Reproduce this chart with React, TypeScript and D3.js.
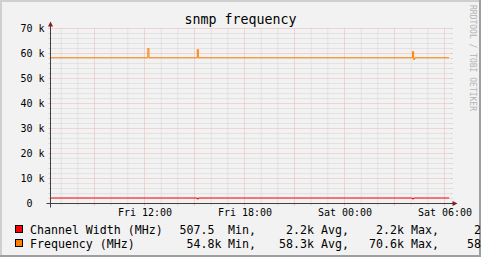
import React from "react";
import * as d3 from "d3";

// ---- data ----
const TIME_START = "2024-01-05T06:21:36Z";
const TIME_END = "2024-01-06T06:21:36Z";

const freqTimes = [
  "2024-01-05T06:21:36Z",
  "2024-01-05T12:12:00Z",
  "2024-01-05T12:16:00Z",
  "2024-01-05T15:10:00Z",
  "2024-01-05T15:14:00Z",
  "2024-01-06T04:05:00Z",
  "2024-01-06T04:09:00Z",
  "2024-01-06T04:13:00Z",
  "2024-01-06T06:17:00Z",
];
const freqValues = [58300, 62000, 58300, 61600, 58300, 60800, 57600, 58300, 58300];

const widthTimes = [
  "2024-01-05T06:21:36Z",
  "2024-01-05T15:10:00Z",
  "2024-01-05T15:14:00Z",
  "2024-01-06T04:05:00Z",
  "2024-01-06T04:09:00Z",
  "2024-01-06T06:17:00Z",
];
const widthValues = [2200, 1800, 2200, 1800, 2200, 2200];

const yTicks = [0, 10000, 20000, 30000, 40000, 50000, 60000, 70000];
const yMinorStep = 2000;

const legendNames = ["Channel Width (MHz)", "Frequency (MHz)"];
const legendColors = ["#ff0000", "#ff8000"];
const legendMin = ["507.5 ", "54.8k"];
const legendAvg = ["2.2k", "58.3k"];
const legendMax = ["2.2k", "70.6k"];
const legendLast = ["2.2k", "58.3k"];
const statWords = ["Min,", "Avg,", "Max,"];

const TITLE = "snmp frequency";
const WATERMARK = "RRDTOOL / TOBI OETIKER";

// ---- layout ----
const W = 481;
const H = 257;
const X0 = 50.5;
const X1 = 450.5;
const Y0 = 203.5;
const Y1 = 28.5;
const MONO = "'DejaVu Sans Mono', monospace";

export default function App() {
  const x = d3
    .scaleUtc()
    .domain([new Date(TIME_START), new Date(TIME_END)])
    .range([X0, X1]);
  const y = d3.scaleLinear().domain([0, 70000]).range([Y0, Y1]);

  const hourTicks = x.ticks(d3.utcHour.every(1)!);
  const majorX = hourTicks.filter((d) => d.getUTCHours() % 3 === 0);
  const minorX = hourTicks.filter((d) => d.getUTCHours() % 3 !== 0);
  const labelX = hourTicks.filter((d) => d.getUTCHours() % 6 === 0);
  const fmt = d3.utcFormat("%a %H:%M");

  const minorY = d3.range(0, 70001, yMinorStep).filter((v) => v % 10000 !== 0);

  const line = d3
    .line<[Date, number]>()
    .x((d) => x(d[0]))
    .y((d) => y(d[1]))
    .curve(d3.curveStepAfter);

  const freqPts: [Date, number][] = freqTimes.map((t, i) => [new Date(t), freqValues[i]]);
  const widthPts: [Date, number][] = widthTimes.map((t, i) => [new Date(t), widthValues[i]]);

  const minorCol = "#d2d2d2";
  const majorCol = "#efb4b4";
  const rows = [233.5, 247.5];

  return (
    <svg
      width={W}
      height={H}
      style={{ position: "fixed", left: 0, top: 0 }}
      xmlns="http://www.w3.org/2000/svg"
    >
      <rect x={0} y={0} width={W} height={H} fill="#f2f2f2" />
      {/* frame shading */}
      <line x1={0} y1={1} x2={W} y2={1} stroke="#cfcfcf" strokeWidth={2} />
      <line x1={1} y1={0} x2={1} y2={H} stroke="#cfcfcf" strokeWidth={2} />
      <line x1={0} y1={H - 1} x2={W} y2={H - 1} stroke="#9e9e9e" strokeWidth={2} />
      <line x1={W - 1} y1={0} x2={W - 1} y2={H} stroke="#9e9e9e" strokeWidth={2} />

      {/* minor grid */}
      {minorY.map((v) => (
        <g key={"my" + v}>
          <line x1={X0} x2={X1} y1={y(v)} y2={y(v)} stroke={minorCol} strokeDasharray="1,1" />
          <line x1={X0 - 2} x2={X0} y1={y(v)} y2={y(v)} stroke={minorCol} />
          <line x1={X1} x2={X1 + 2} y1={y(v)} y2={y(v)} stroke={minorCol} />
        </g>
      ))}
      {minorX.map((d) => (
        <g key={"mx" + d.getTime()}>
          <line x1={x(d)} x2={x(d)} y1={Y1} y2={Y0} stroke={minorCol} strokeDasharray="1,1" />
          <line x1={x(d)} x2={x(d)} y1={Y0} y2={Y0 + 2} stroke={minorCol} />
        </g>
      ))}
      {/* major grid */}
      {yTicks.map((v) => (
        <g key={"My" + v}>
          <line x1={X0} x2={X1} y1={y(v)} y2={y(v)} stroke={majorCol} strokeDasharray="1,1" />
          <line x1={X0 - 2} x2={X0} y1={y(v)} y2={y(v)} stroke={majorCol} />
          <line x1={X1} x2={X1 + 2} y1={y(v)} y2={y(v)} stroke={majorCol} />
        </g>
      ))}
      {majorX.map((d) => (
        <g key={"Mx" + d.getTime()}>
          <line x1={x(d)} x2={x(d)} y1={Y1} y2={Y0} stroke={majorCol} strokeDasharray="1,1" />
          <line x1={x(d)} x2={x(d)} y1={Y0} y2={Y0 + 2} stroke={majorCol} />
        </g>
      ))}

      {/* data lines */}
      <path d={line(widthPts) || ""} fill="none" stroke={legendColors[0]} strokeWidth={1} />
      <path d={line(freqPts) || ""} fill="none" stroke={legendColors[1]} strokeWidth={1} />

      {/* axes */}
      <line x1={X0 - 4} x2={X1 + 3} y1={Y0} y2={Y0} stroke="#404040" />
      <line x1={X0} x2={X0} y1={Y0 + 4} y2={Y1 - 3} stroke="#404040" />
      <polygon
        points={`${X1 + 7},${Y0} ${X1 + 2},${Y0 - 2.5} ${X1 + 2},${Y0 + 2.5}`}
        fill="#7f1f1f"
      />
      <polygon
        points={`${X0},${Y1 - 7} ${X0 - 2.5},${Y1 - 2} ${X0 + 2.5},${Y1 - 2}`}
        fill="#7f1f1f"
      />

      {/* y labels */}
      {yTicks.map((v) => (
        <text
          key={"yl" + v}
          x={44.5}
          y={y(v) + 3.6}
          textAnchor="end"
          fontFamily={MONO}
          fontSize={10}
          fill="#000"
          style={{ whiteSpace: "pre" }}
          xmlSpace="preserve"
        >
          {v === 0 ? "0  " : `${v / 1000} k`}
        </text>
      ))}
      {/* x labels */}
      {labelX.map((d) => (
        <text
          key={"xl" + d.getTime()}
          x={x(d) + 0.5}
          y={216}
          textAnchor="middle"
          fontFamily={MONO}
          fontSize={10}
          fill="#000"
        >
          {fmt(d)}
        </text>
      ))}

      {/* title */}
      <text x={240.5} y={24} textAnchor="middle" fontFamily={MONO} fontSize={13.3} fill="#000">
        {TITLE}
      </text>

      {/* watermark */}
      <text
        transform="translate(469.5,5) rotate(90)"
        fontFamily={MONO}
        fontSize={8}
        fill="#b4b4b4"
      >
        {WATERMARK}
      </text>

      {/* legend */}
      {legendNames.map((name, i) => {
        const by = rows[i];
        const vals = [legendMin[i], legendAvg[i], legendMax[i]];
        const valRight = [221.5, 314, 404];
        const wordLeft = [228, 321, 411];
        return (
          <g key={"lg" + i} fontFamily={MONO} fontSize={11.6} fill="#000">
            <rect x={15.5} y={by - 8} width={7} height={7} fill={legendColors[i]} stroke="#000" />
            <text x={30} y={by}>{name}</text>
            {vals.map((v, j) => (
              <React.Fragment key={j}>
                <text x={valRight[j]} y={by} textAnchor="end" style={{ whiteSpace: "pre" }} xmlSpace="preserve">
                  {v}
                </text>
                <text x={wordLeft[j]} y={by}>{statWords[j]}</text>
              </React.Fragment>
            ))}
            <text x={453} y={by} style={{ whiteSpace: "pre" }} xmlSpace="preserve">
              {"  " + (i === 0 ? " " : "") + legendLast[i] + " Last"}
            </text>
          </g>
        );
      })}
    </svg>
  );
}
